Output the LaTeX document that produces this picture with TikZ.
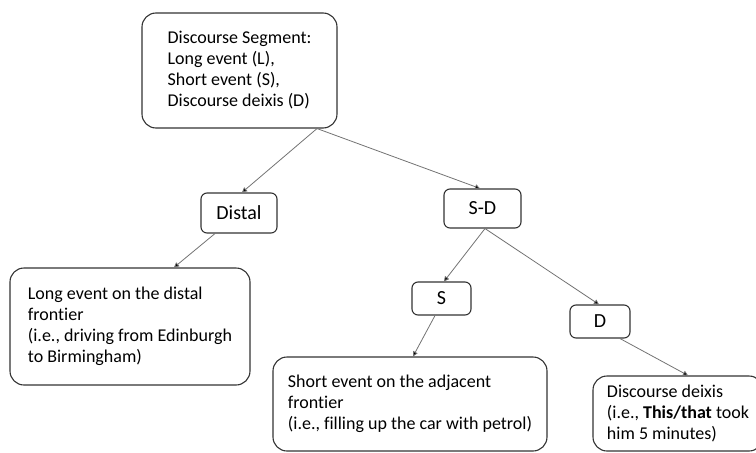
\documentclass[tikz,border=0pt]{standalone}
\usepackage{fontspec}
\setmainfont[Ligatures=NoCommon]{Carlito}
\usetikzlibrary{arrows.meta}
\begin{document}
\begin{tikzpicture}[x=1pt,y=1pt,
  bigbox/.style={draw=black!80, line width=1.1pt, rounded corners=14pt, align=left,
    inner sep=0pt, font=\fontsize{18}{21}\selectfont},
  tagbox/.style={draw=black!80, line width=1.1pt, rounded corners=6pt, inner sep=0pt,
    font=\fontsize{20}{24}\selectfont},
  link/.style={draw=black!55, line width=0.8pt, -{Triangle[width=5pt,length=5pt,fill=black]}}]
\useasboundingbox (0,0) rectangle (756,-453);

% top category
\node[bigbox, minimum width=195pt, minimum height=115pt] (root) at (239.5,-70.5)
  {Discourse Segment:\\Long event (L),\\Short event (S),\\Discourse deixis (D)};

% second level
\node[tagbox, minimum width=76pt, minimum height=40pt] (distal) at (239,-213) {Distal};
\node[tagbox, minimum width=77pt, minimum height=39pt] (sd) at (482.5,-208.5) {S-D};

% third level
\node[tagbox, minimum width=59pt, minimum height=33pt] (s) at (441.5,-298.5) {S};
\node[tagbox, minimum width=60pt, minimum height=33pt] (d) at (600,-321.5) {D};

% leaves
\node[bigbox, minimum width=240pt, minimum height=117pt] (long) at (130,-326.5)
  {Long event on the distal\\frontier\\(i.e., driving from Edinburgh\\to Birmingham)};
\node[bigbox, minimum width=274pt, minimum height=94pt] (short) at (410,-404)
  {Short event on the adjacent\\frontier\\(i.e., filling up the car with petrol)};
\node[bigbox, minimum width=170pt, minimum height=75pt] (deixis) at (678,-413.5)
  {Discourse deixis\\(i.e., \textbf{This/that} took\\him 5 minutes)};

% connectors
\draw[link] ([xshift=77.5pt]root.south) -- ([xshift=3pt]distal.north);
\draw[link] ([xshift=77.5pt]root.south) -- ([xshift=-2.5pt]sd.north);
\draw[link] ([xshift=-24pt]distal.south) -- ([xshift=44pt]long.north);
\draw[link] ([xshift=2.5pt]sd.south) -- ([xshift=2.5pt]s.north);
\draw[link] ([xshift=2.5pt]sd.south) -- ([xshift=-1pt]d.north);
\draw[link] ([xshift=-6.5pt]s.south) -- ([xshift=3pt]short.north);
\draw[link] ([xshift=20pt]d.south) -- ([xshift=10pt]deixis.north);
\end{tikzpicture}
\end{document}
